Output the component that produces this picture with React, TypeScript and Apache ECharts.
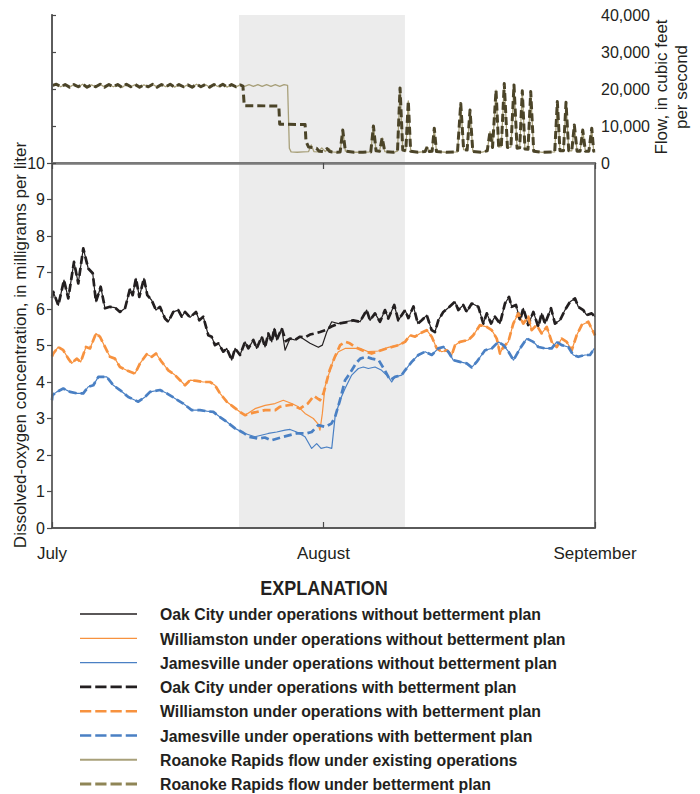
import React, { useEffect, useRef } from "react";
import * as echarts from "echarts";

// ---------- DATA (x = days after July 1; Aug 1 = 31, Sep 1 = 62) ----------
const monthLabels: Record<number, string> = { 0: "July", 31: "August", 62: "September" };
const windowStart = 21.35;
const windowEnd = 40.3;

// Flow (cfs)
const flowCommon: number[][] = [
  [0, 20900], [0.5, 21300], [1, 20600], [1.5, 21200], [2, 20500], [2.5, 21200], [3, 20600], [3.5, 21300],
  [4, 20500], [4.5, 21100], [5, 20600], [5.5, 21300], [6, 20500], [6.5, 21200], [7, 20600], [7.5, 21200],
  [8, 20400], [8.5, 21300], [9, 20600], [9.5, 21200], [10, 20500], [10.5, 21100], [11, 20600], [11.5, 21300],
  [12, 20500], [12.5, 21200], [13, 20600], [13.5, 21300], [14, 20500], [14.5, 21200], [15, 20600], [15.5, 21100],
  [16, 20500], [16.5, 21300], [17, 20600], [17.5, 21200], [18, 20500], [18.5, 21200], [19, 20600], [19.5, 21300],
  [20, 20500], [20.5, 21200], [21, 20600], [21.5, 21100],
];
const flowExistingMid: number[][] = [
  [22, 20700], [22.5, 21200], [23, 20700], [23.5, 21200], [24, 20700], [24.5, 21200], [25, 20700], [25.5, 21200],
  [26, 20700], [26.5, 21200], [26.9, 21000], [27.1, 4000], [27.3, 3000], [28, 2900], [28.7, 3000], [29.3, 3100],
  [29.6, 4900], [29.9, 3100], [30.4, 3000], [30.8, 4100], [31.2, 3100], [31.6, 3900], [32, 3000],
];
const flowBettermentMid: number[][] = [
  [21.8, 20800], [21.95, 15500], [25.9, 15400], [26.0, 10500], [28.9, 10400], [29.0, 5800], [29.3, 4300],
  [30.2, 4000], [30.5, 3200], [31.0, 3100], [31.4, 3900], [31.7, 3100], [32, 3000],
];
const flowTail: number[][] = [
  [32.5, 2900], [32.9, 3000], [33.2, 8900], [33.5, 3200], [34.5, 2900], [35.5, 2900], [36.4, 3000], [36.7, 10000],
  [37.0, 3300], [37.4, 3200], [37.7, 6800], [38.0, 3100], [39.0, 2900], [39.45, 3200], [39.74, 20300], [40.05, 3500],
  [40.4, 3300], [40.68, 16800], [40.95, 3200], [41.8, 2900], [42.6, 3100], [42.85, 4400], [43.1, 3100], [43.4, 3200],
  [43.65, 9400], [43.9, 3100], [45, 2900], [46.3, 3000], [46.67, 16100], [47.0, 3600], [47.4, 3500], [47.73, 14300],
  [48.05, 3100], [49, 2900], [49.7, 3300], [50.01, 8500], [50.3, 4200], [50.7, 19700], [51.0, 4300], [51.3, 4400],
  [51.64, 21500], [52.0, 4200], [52.4, 4300], [52.75, 21100], [53.1, 4000], [53.4, 4100], [53.7, 19500], [54.0, 3800],
  [54.35, 3700], [54.66, 19300], [55.0, 3200], [56.0, 2900], [57.4, 3000], [57.7, 16600], [58.0, 3300], [58.4, 3300],
  [58.69, 16400], [59.0, 3300], [59.35, 3300], [59.64, 10300], [59.95, 3200], [60.3, 3200], [60.6, 8900], [60.9, 3200],
  [61.3, 3200], [61.63, 9400], [61.85, 3200], [62, 3300],
];

// Dissolved oxygen (mg/L), operations without betterment plan
const oakCityWithout: number[][] = [
  [0, 6.3], [0.15, 6.47], [0.72, 6.1], [1.37, 6.79], [1.86, 6.29], [2.51, 7.29], [3.0, 6.7], [3.57, 7.66], [4.14, 7.11],
  [4.65, 6.98], [5.02, 6.2], [5.56, 6.61], [6.05, 6.02], [6.62, 6.06], [7.19, 6.04], [7.76, 5.92], [8.34, 6.02],
  [8.91, 6.56], [9.21, 6.38], [9.59, 6.84], [9.97, 6.33], [10.5, 6.84], [10.88, 6.38], [11.38, 6.24], [11.87, 5.97],
  [12.33, 6.06], [12.9, 5.74], [13.28, 5.65], [13.85, 5.92], [14.42, 5.97], [14.81, 5.79], [15.19, 5.92], [15.76, 5.77],
  [16.44, 5.92], [16.82, 5.69], [17.27, 5.79], [17.85, 5.28], [18.23, 5.24], [18.61, 5.01], [18.99, 5.06], [19.56, 4.83],
  [19.95, 4.92], [20.52, 4.6], [20.9, 4.92], [21.47, 4.74], [22.04, 5.1], [22.42, 4.92], [22.99, 5.15], [23.37, 4.92],
  [23.95, 5.24], [24.33, 4.96], [24.7, 5.33], [25.09, 5.1], [25.38, 5.47], [25.66, 5.15], [26.23, 5.47], [26.61, 4.87],
  [27.18, 5.19], [27.75, 5.15], [28.32, 5.24], [28.89, 5.15], [29.46, 5.06], [30.41, 4.95], [30.87, 5.01], [31.37, 5.37],
  [31.94, 5.65], [32.7, 5.6], [33.46, 5.65], [34.4, 5.69], [35.17, 5.65], [35.93, 5.97], [36.31, 5.69], [36.88, 5.88],
  [37.45, 5.65], [38.02, 5.97], [38.4, 5.74], [39.08, 6.11], [39.54, 5.69], [40.31, 5.97], [40.69, 5.75], [41.27, 6.07],
  [41.77, 5.6], [42.22, 5.69], [42.79, 5.83], [43.35, 5.42], [43.73, 5.37], [44.11, 5.69], [44.68, 5.92], [45.33, 6.05],
  [46.01, 6.2], [46.39, 5.97], [46.96, 6.11], [47.35, 5.92], [47.92, 6.15], [48.3, 6.11], [48.68, 6.06], [49.25, 5.6],
  [49.64, 5.88], [50.13, 5.6], [50.58, 5.79], [51.15, 5.6], [51.72, 6.15], [52.18, 6.33], [52.49, 6.06], [52.98, 6.11],
  [53.44, 5.69], [53.81, 6.02], [54.38, 5.56], [54.96, 5.92], [55.53, 5.51], [55.91, 5.88], [56.29, 5.6], [56.98, 6.02],
  [57.43, 5.6], [58.0, 5.69], [58.57, 5.97], [59.15, 6.2], [59.72, 6.29], [60.09, 6.06], [60.66, 5.97], [61.05, 5.83],
  [61.62, 5.88], [62.0, 5.79],
];
const williamstonWithout: number[][] = [
  [0, 4.7], [0.15, 4.78], [0.72, 4.96], [1.29, 4.87], [1.86, 4.64], [2.25, 4.51], [2.82, 4.64], [3.28, 4.55], [3.88, 4.96],
  [4.34, 4.92], [5.02, 5.33], [5.48, 5.24], [6.05, 4.96], [6.62, 4.69], [7.19, 4.64], [7.76, 4.41], [8.53, 4.32],
  [9.48, 4.23], [10.05, 4.51], [10.81, 4.76], [11.38, 4.69], [11.87, 4.78], [12.53, 4.55], [13.28, 4.32], [14.04, 4.19],
  [14.62, 4.05], [15.19, 3.91], [15.76, 4.05], [16.52, 4.03], [17.27, 4.0], [18.04, 4.0], [18.61, 3.91], [19.18, 3.69],
  [19.95, 3.46], [20.71, 3.32], [21.47, 3.18], [22.04, 3.09], [23.18, 3.27], [24.33, 3.36], [25.46, 3.41], [26.41, 3.5],
  [27.37, 3.41], [28.13, 3.32], [28.89, 3.14], [29.84, 3.0], [30.34, 2.86], [30.6, 2.68], [30.87, 3.14], [31.17, 3.87],
  [31.63, 4.23], [32.12, 4.6], [32.7, 4.83], [33.46, 4.92], [34.4, 4.92], [35.17, 4.92], [36.12, 4.83], [37.26, 4.85],
  [38.4, 4.95], [39.54, 5.01], [40.31, 5.1], [40.88, 5.28], [41.45, 5.24], [42.02, 5.33], [42.78, 5.42], [43.36, 5.24],
  [43.93, 4.92], [44.5, 4.83], [45.07, 4.87], [45.64, 4.74], [46.02, 5.01], [46.59, 5.1], [47.53, 5.15], [48.1, 5.28],
  [48.49, 5.42], [48.87, 5.56], [49.63, 5.51], [50.21, 5.42], [50.78, 5.19], [51.15, 4.78], [51.53, 4.96], [52.1, 5.1],
  [52.67, 5.6], [53.24, 5.88], [53.81, 5.6], [54.38, 5.79], [54.77, 5.42], [55.34, 5.56], [55.91, 5.33], [56.49, 5.51],
  [57.06, 5.1], [57.63, 4.96], [58.2, 5.19], [58.77, 5.1], [59.34, 4.87], [59.91, 5.28], [60.48, 5.56], [61.24, 5.65],
  [61.81, 5.37], [62.0, 5.28],
];
const jamesvilleWithout: number[][] = [
  [0, 3.5], [0.06, 3.64], [0.54, 3.73], [1.29, 3.82], [2.06, 3.73], [2.82, 3.69], [3.57, 3.69], [4.14, 3.87], [4.72, 3.91],
  [5.29, 4.14], [6.25, 4.14], [7.0, 3.91], [7.76, 3.78], [8.71, 3.59], [9.85, 3.46], [10.62, 3.59], [11.19, 3.73],
  [12.33, 3.78], [13.1, 3.69], [14.04, 3.55], [14.99, 3.41], [15.95, 3.23], [16.9, 3.23], [17.66, 3.2], [18.42, 3.18],
  [19.18, 3.04], [19.95, 2.91], [20.9, 2.73], [21.84, 2.61], [22.04, 2.59], [23.18, 2.5], [24.7, 2.59], [25.66, 2.63],
  [26.61, 2.68], [27.18, 2.7], [27.94, 2.63], [28.89, 2.5], [29.65, 2.18], [30.22, 2.31], [30.72, 2.18], [31.37, 2.22],
  [31.94, 2.18], [32.32, 3.04], [32.88, 3.5], [33.46, 3.82], [34.22, 4.19], [34.98, 4.37], [35.55, 4.41], [36.12, 4.37],
  [36.88, 4.41], [37.64, 4.32], [38.4, 4.14], [38.79, 4.0], [39.16, 4.14], [39.93, 4.19], [40.31, 4.32], [41.07, 4.55],
  [41.83, 4.74], [42.6, 4.83], [43.36, 4.74], [44.11, 4.92], [44.68, 4.96], [45.25, 4.83], [45.82, 4.6], [46.59, 4.55],
  [47.35, 4.51], [47.92, 4.4], [48.49, 4.55], [49.44, 4.87], [50.21, 4.92], [50.97, 5.1], [51.55, 5.01], [52.12, 4.83],
  [52.69, 4.6], [53.44, 4.92], [54.21, 5.19], [54.96, 5.1], [55.53, 4.96], [56.29, 4.92], [57.06, 4.92], [57.63, 5.1],
  [58.2, 5.01], [58.95, 4.96], [59.52, 4.74], [60.09, 4.69], [60.86, 4.74], [61.43, 4.74], [61.92, 4.92],
];

// Operations with betterment plan: portions that differ from the series above
const oakCityWithSegment: number[][] = [
  [26.23, 5.47], [26.7, 5.12], [27.18, 5.19], [27.75, 5.15], [28.32, 5.24], [28.89, 5.22], [29.46, 5.3], [30.0, 5.33],
  [30.6, 5.37], [31.2, 5.42], [31.9, 5.52], [32.7, 5.6], [33.5, 5.63], [34.4, 5.69], [35.17, 5.65],
];
const williamstonWithSegment: number[][] = [
  [22.04, 3.09], [22.99, 3.16], [24.33, 3.23], [25.5, 3.23], [26.0, 3.32], [27.37, 3.38], [28.3, 3.27], [29.2, 3.41],
  [29.9, 3.62], [30.6, 3.5], [31.0, 3.69], [31.4, 4.05], [31.7, 4.32], [32.3, 4.69], [32.9, 5.01], [33.5, 5.1],
  [34.0, 5.06], [34.6, 4.96], [35.4, 4.87], [36.5, 4.78], [37.6, 4.87], [38.8, 4.96], [39.54, 5.01],
];
const jamesvilleWithSegment: number[][] = [
  [21.84, 2.61], [22.5, 2.5], [23.5, 2.45], [24.3, 2.48], [25.0, 2.4], [26.4, 2.5], [27.9, 2.59], [29.0, 2.59],
  [29.65, 2.63], [30.4, 2.82], [31.2, 2.77], [31.9, 2.86], [32.32, 3.04], [32.88, 3.5], [33.46, 4.05], [34.0, 4.23],
  [34.7, 4.51], [35.2, 4.64], [35.9, 4.69], [36.5, 4.64], [37.3, 4.6], [38.0, 4.32], [38.6, 4.05], [39.16, 4.14],
];

const legendNames = [
  "Oak City under operations without betterment plan",
  "Williamston under operations without betterment plan",
  "Jamesville under operations without betterment plan",
  "Oak City under operations with betterment plan",
  "Williamston under operations with betterment plan",
  "Jamesville under operations with betterment plan",
  "Roanoke Rapids flow under existing operations",
  "Roanoke Rapids flow under betterment plan",
];

// ---------- helpers ----------
const splice = (base: number[][], seg: number[][]) => {
  const s = seg[0][0];
  const e = seg[seg.length - 1][0];
  return [...base.filter((p) => p[0] < s), ...seg, ...base.filter((p) => p[0] > e)];
};

const FONT = "'Liberation Sans', Arial, sans-serif";
const INK = "#231f20";
const BLACK = "#231f20";
const ORANGE = "#f7923f";
const BLUE = "#4a80c4";
const FLOW_LIGHT = "#a8a07a";
const FLOW_DARK = "#4b4428";
const FRAME = "#4a4a4a";

// legend swatch styles (color, width, dashed)
const legendStyles: [string, number, boolean][] = [
  [BLACK, 1.3, false],
  [ORANGE, 1.3, false],
  [BLUE, 1.3, false],
  [BLACK, 2.6, true],
  [ORANGE, 2.6, true],
  [BLUE, 2.6, true],
  [FLOW_LIGHT, 2, false],
  ["#8f8556", 3, true],
];

export default function App() {
  const ref = useRef<HTMLDivElement>(null);

  useEffect(() => {
    if (!ref.current) return;
    const chart = echarts.init(ref.current, undefined, { renderer: "svg" });

    const flowExisting = [...flowCommon, ...flowExistingMid, ...flowTail];
    const flowBetterment = [...flowCommon, ...flowBettermentMid, ...flowTail];

    const shade = (xi: number, yi: number, yv: number) => ({
      type: "line",
      name: "shade" + xi,
      xAxisIndex: xi,
      yAxisIndex: yi,
      data: [[0, yv], [62, yv]],
      symbol: "none",
      lineStyle: { opacity: 0 },
      silent: true,
      z: 1,
      markArea: {
        silent: true,
        itemStyle: { color: "#ececec" },
        data: [[{ xAxis: windowStart }, { xAxis: windowEnd }]],
      },
    });

    const line = (name: string, data: number[][], color: string, width: number, dashed: boolean, xi: number, yi: number) => ({
      type: "line",
      name,
      xAxisIndex: xi,
      yAxisIndex: yi,
      data,
      symbol: "none",
      showSymbol: false,
      z: 2,
      lineStyle: { color, width, type: dashed ? [8, 4] : "solid", cap: "butt", join: "round" },
      itemStyle: { color },
    });

    const xBase = {
      type: "value",
      min: 0,
      max: 62,
      interval: 31,
      splitLine: { show: false },
      z: 5,
    };

    // legend drawn as graphic elements
    const rowY0 = 614;
    const rowStep = 24.3;
    const legendGraphics: any[] = [];
    legendNames.forEach((name, i) => {
      const y = rowY0 + i * rowStep;
      const [color, width, dashed] = legendStyles[i];
      legendGraphics.push({
        type: "line",
        shape: { x1: 80, y1: y, x2: 137, y2: y },
        style: { stroke: color, lineWidth: width, lineDash: dashed ? [11.25, 4] : null },
        silent: true,
      });
      legendGraphics.push({
        type: "text",
        x: 160,
        y,
        scaleX: 0.93,
        style: {
          text: name,
          fontFamily: FONT,
          fontSize: 17,
          fontWeight: "bold",
          fill: INK,
          align: "left",
          verticalAlign: "middle",
        },
        silent: true,
      });
    });

    const option: any = {
      animation: false,
      backgroundColor: "#ffffff",
      grid: [
        { left: 52, right: 105, top: 15, height: 148 },
        { left: 52, right: 105, top: 163, height: 365 },
      ],
      xAxis: [
        {
          ...xBase,
          gridIndex: 0,
          position: "top",
          axisLine: { lineStyle: { color: FRAME, width: 1.5 } },
          axisTick: { inside: true, length: 6, lineStyle: { color: FRAME, width: 1.2 } },
          axisLabel: { show: false },
        },
        {
          ...xBase,
          gridIndex: 0,
          position: "bottom",
          axisLine: { lineStyle: { color: "#7a7a7a", width: 2.5 } },
          axisTick: { show: false },
          axisLabel: { show: false },
        },
        {
          ...xBase,
          gridIndex: 1,
          position: "bottom",
          axisLine: { lineStyle: { color: "#5a5a5a", width: 1.8 } },
          axisTick: { inside: true, length: 6, lineStyle: { color: FRAME, width: 1.2 } },
          axisLabel: {
            margin: 17,
            showMinLabel: true,
            showMaxLabel: true,
            fontFamily: FONT,
            fontSize: 17,
            color: INK,
            formatter: (v: number) => monthLabels[v] ?? "",
          },
        },
      ],
      yAxis: [
        {
          type: "value",
          gridIndex: 0,
          position: "right",
          min: 0,
          max: 40000,
          interval: 10000,
          z: 5,
          splitLine: { show: false },
          axisLine: { show: true, lineStyle: { color: FRAME, width: 1.5 } },
          axisTick: { show: true, length: 4, lineStyle: { color: FRAME, width: 1.2 } },
          axisLabel: {
            margin: 6,
            fontFamily: FONT,
            fontSize: 16,
            color: INK,
            padding: [6, 0, 0, 0],
            formatter: (v: number) => v.toLocaleString("en-US"),
          },
        },
        {
          type: "value",
          gridIndex: 0,
          position: "left",
          min: 0,
          max: 40000,
          z: 5,
          splitLine: { show: false },
          axisLine: { show: true, lineStyle: { color: "#5a5a5a", width: 1.8 } },
          axisTick: { show: false },
          axisLabel: { show: false },
        },
        {
          type: "value",
          gridIndex: 1,
          position: "left",
          min: 0,
          max: 10,
          interval: 1,
          z: 5,
          splitLine: { show: false },
          axisLine: { show: true, lineStyle: { color: "#5a5a5a", width: 1.8 } },
          axisTick: { show: true, length: 5, lineStyle: { color: FRAME, width: 1.2 } },
          axisLabel: { margin: 7, fontFamily: FONT, fontSize: 16, color: INK },
        },
        {
          type: "value",
          gridIndex: 1,
          position: "right",
          min: 0,
          max: 10,
          z: 5,
          splitLine: { show: false },
          axisLine: { show: true, lineStyle: { color: FRAME, width: 1.5 } },
          axisTick: { show: false },
          axisLabel: { show: false },
        },
      ],
      graphic: [
        {
          type: "text",
          x: 324,
          y: 588,
          scaleX: 0.9,
          style: {
            text: "EXPLANATION",
            fontFamily: FONT,
            fontSize: 20,
            fontWeight: "bold",
            fill: INK,
            align: "center",
            verticalAlign: "middle",
          },
        },
        {
          type: "text",
          x: 20,
          y: 345,
          rotation: Math.PI / 2,
          style: {
            text: "Dissolved-oxygen concentration, in milligrams per liter",
            fontFamily: FONT,
            fontSize: 17,
            fill: INK,
            align: "center",
            verticalAlign: "middle",
          },
        },
        {
          type: "text",
          x: 671,
          y: 87,
          rotation: Math.PI / 2,
          style: {
            text: "Flow, in cubic feet\nper second",
            fontFamily: FONT,
            fontSize: 17,
            lineHeight: 20,
            fill: INK,
            align: "center",
            verticalAlign: "middle",
          },
        },
        ...legendGraphics,
      ],
      series: [
        shade(0, 0, -1000),
        shade(2, 2, -1),
        line(legendNames[6], flowExisting, FLOW_LIGHT, 1.3, false, 0, 0),
        line(legendNames[7], flowBetterment, FLOW_DARK, 3, true, 0, 0),
        line(legendNames[0], oakCityWithout, BLACK, 1.2, false, 2, 2),
        line(legendNames[1], williamstonWithout, ORANGE, 1.2, false, 2, 2),
        line(legendNames[2], jamesvilleWithout, BLUE, 1.2, false, 2, 2),
        line(legendNames[3], splice(oakCityWithout, oakCityWithSegment), BLACK, 2.7, true, 2, 2),
        line(legendNames[4], splice(williamstonWithout, williamstonWithSegment), ORANGE, 2.7, true, 2, 2),
        line(legendNames[5], splice(jamesvilleWithout, jamesvilleWithSegment), BLUE, 2.7, true, 2, 2),
      ],
    };

    chart.setOption(option);
    return () => chart.dispose();
  }, []);

  return (
    <div
      ref={ref}
      style={{ position: "absolute", left: 0, top: 0, width: 700, height: 794, background: "#fff" }}
    />
  );
}
